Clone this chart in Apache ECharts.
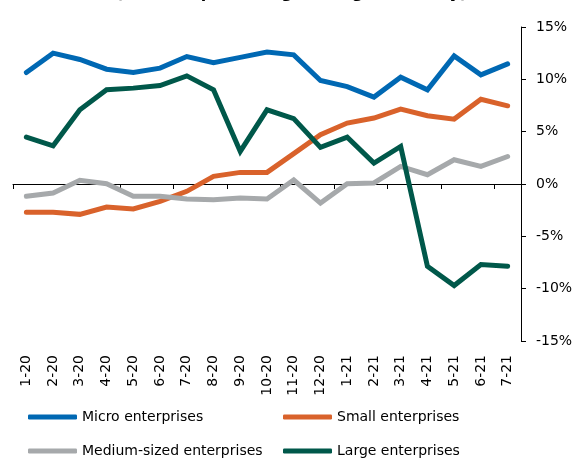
<!DOCTYPE html>
<html>
<head>
<meta charset="utf-8">
<script src="https://cdn.jsdelivr.net/npm/echarts@6/dist/echarts.min.js"></script>
<style>
html,body{margin:0;padding:0;background:#fff;}
#chart{width:583px;height:459px;}
</style>
</head>
<body>
<div id="chart"></div>
<script>
var categories = ['1-20','2-20','3-20','4-20','5-20','6-20','7-20','8-20','9-20','10-20','11-20','12-20','1-21','2-21','3-21','4-21','5-21','6-21','7-21'];
var micro  = [10.65, 12.5, 11.9, 10.97, 10.65, 11.07, 12.18, 11.6, 12.1, 12.6, 12.34, 9.89, 9.31, 8.3, 10.2, 9.0, 12.24, 10.43, 11.48];
var small  = [-2.71, -2.71, -2.9, -2.2, -2.39, -1.66, -0.7, 0.73, 1.11, 1.11, 2.9, 4.7, 5.82, 6.3, 7.16, 6.52, 6.2, 8.1, 7.47];
var medium = [-1.18, -0.86, 0.35, 0.03, -1.18, -1.18, -1.43, -1.5, -1.34, -1.43, 0.38, -1.82, 0.03, 0.1, 1.68, 0.89, 2.32, 1.68, 2.63];
var large  = [4.48, 3.65, 7.09, 9.0, 9.16, 9.41, 10.33, 9.0, 3.11, 7.09, 6.25, 3.5, 4.48, 2.0, 3.59, -7.86, -9.7, -7.7, -7.86];
var seriesNames = ['Micro enterprises','Small enterprises','Medium-sized enterprises','Large enterprises'];
var titleText = '(nominal percentage change, monthly)';

var FONT = 'DejaVu Sans';
var colors = ['#0068b3', '#d9622b', '#a6a9ab', '#00584a'];
var chart = echarts.init(document.getElementById('chart'), null, {renderer:'canvas'});

function mk(name, data, color) {
  return {
    name: name, type: 'line', data: data, xAxisIndex: 0, yAxisIndex: 0,
    symbol: 'none', smooth: false,
    lineStyle: {width: 5, color: color, cap: 'round', join: 'miter'},
    itemStyle: {color: color},
    emphasis: {disabled: true},
    animation: false
  };
}
function lg(name, left, top) {
  return {
    data: [name], orient: 'horizontal', left: left, top: top, padding: 0,
    icon: 'roundRect', itemWidth: 49, itemHeight: 5, itemGap: 5,
    selectedMode: false,
    textStyle: {fontFamily: FONT, fontSize: 14, color: '#000'}
  };
}

chart.setOption({
  animation: false,
  backgroundColor: '#fff',
  textStyle: {fontFamily: FONT},
  title: {
    text: titleText, left: 'center', top: -19,
    textStyle: {fontFamily: FONT, fontSize: 16, fontWeight: 'bold', color: '#000'}
  },
  grid: {left: 13, right: 62, top: 27, bottom: 118, containLabel: false},
  legend: [
    lg(seriesNames[0], 28, 410),
    lg(seriesNames[2], 28, 444),
    lg(seriesNames[1], 283, 410),
    lg(seriesNames[3], 283, 444)
  ],
  xAxis: [
    {
      type: 'category', data: categories, boundaryGap: true,
      axisLine: {show: true, onZero: true, lineStyle: {color: '#000', width: 1}},
      axisTick: {show: true, length: 5, inside: false, alignWithLabel: false, lineStyle: {color: '#000'}},
      axisLabel: {show: false},
      splitLine: {show: false}
    },
    {
      type: 'category', data: categories, boundaryGap: true, position: 'bottom',
      axisLine: {show: false, onZero: false},
      axisTick: {show: false},
      axisLabel: {show: true, rotate: 90, margin: 14, fontFamily: FONT, fontSize: 14, color: '#000', interval: 0},
      splitLine: {show: false}
    }
  ],
  yAxis: {
    type: 'value', position: 'right', min: -15, max: 15, interval: 5,
    axisLine: {show: true, lineStyle: {color: '#000', width: 1}},
    axisTick: {show: true, length: 5, inside: false, lineStyle: {color: '#000'}},
    axisLabel: {formatter: '{value}%', margin: 15, fontFamily: FONT, fontSize: 14, color: '#000'},
    splitLine: {show: false}
  },
  series: [
    mk(seriesNames[0], micro, colors[0]),
    mk(seriesNames[1], small, colors[1]),
    mk(seriesNames[2], medium, colors[2]),
    mk(seriesNames[3], large, colors[3])
  ]
});
</script>
</body>
</html>
